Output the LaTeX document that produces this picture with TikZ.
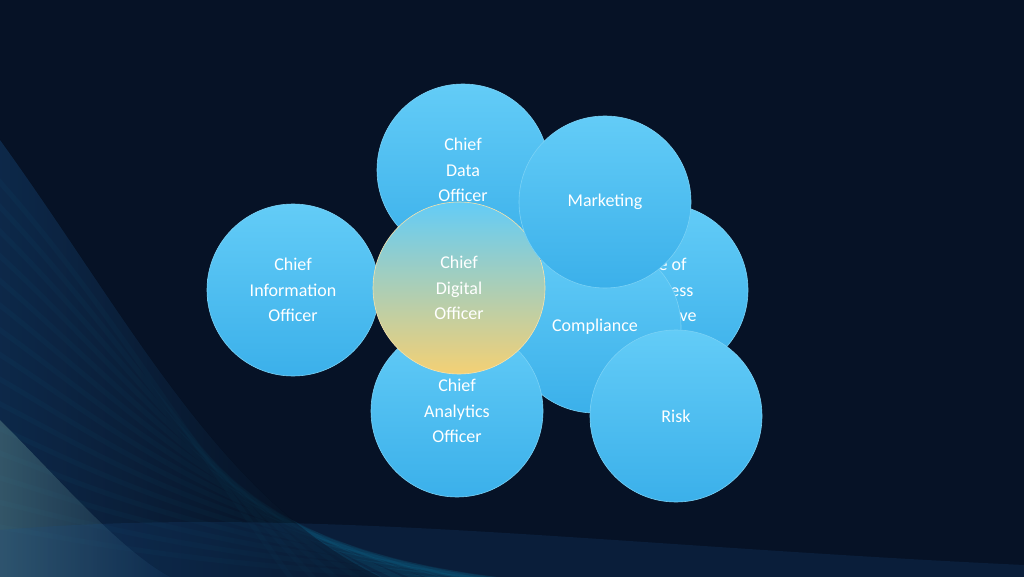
\documentclass[tikz,border=0pt]{standalone}
\usepackage{fontspec}
\setmainfont{Carlito}
\begin{document}
\begin{tikzpicture}[x=1pt,y=-1pt]
\definecolor{bgdark}{HTML}{061226}
\definecolor{bgblue}{HTML}{1A4F8A}
\definecolor{ctop}{HTML}{63CCF7}
\definecolor{cbot}{HTML}{3BB0EA}
\definecolor{cedge}{HTML}{7AD2F6}
\definecolor{dyel}{HTML}{F4D074}
\tikzset{
 bubble/.style={circle,minimum size=172pt,inner sep=0pt,top color=ctop,bottom color=cbot,draw=cedge,line width=0.6pt,text=white,font=\fontsize{18}{25.5}\selectfont,align=center},
}
\fill[bgdark] (0,0) rectangle (1024,577);
\begin{scope}
\clip (0,0) rectangle (1024,577);
\foreach \i in {0,...,14}{
 \draw[bgblue!60!cyan,opacity=0.10,line width=5pt]
  (-20,160+\i*26) .. controls (100,290+\i*18) and (180,430+\i*10) .. (300+\i*25,590);
}
\fill[left color=bgblue,right color=bgdark,opacity=0.45] (0,140) .. controls (130,320) and (220,500) .. (380,577) -- (0,577) -- cycle;
\fill[left color=cyan!30!white,right color=bgblue,opacity=0.25] (0,420) .. controls (60,480) and (120,550) .. (170,577) -- (0,577) -- cycle;
\fill[bgblue,opacity=0.2] (0,530) .. controls (300,505) and (600,545) .. (1024,565) -- (1024,577) -- (0,577) -- cycle;
\end{scope}
\node[bubble] (data) at (463,170) {Chief\\Data\\Officer};
\node[bubble] (lob) at (662,290) {Line of\\Business\\Executive};
\node[bubble] (comp) at (595,327) {Compliance};
\node[bubble] (anal) at (457,411) {Chief\\Analytics\\Officer};
\node[bubble] (cio) at (293,290) {Chief\\Information\\Officer};
\node[bubble,top color=ctop,bottom color=dyel,draw=dyel!60!white] (dig) at (459,288) {Chief\\Digital\\Officer};
\node[bubble] (mkt) at (605,202) {Marketing};
\node[bubble] (risk) at (676,416) {Risk};
\end{tikzpicture}
\end{document}
